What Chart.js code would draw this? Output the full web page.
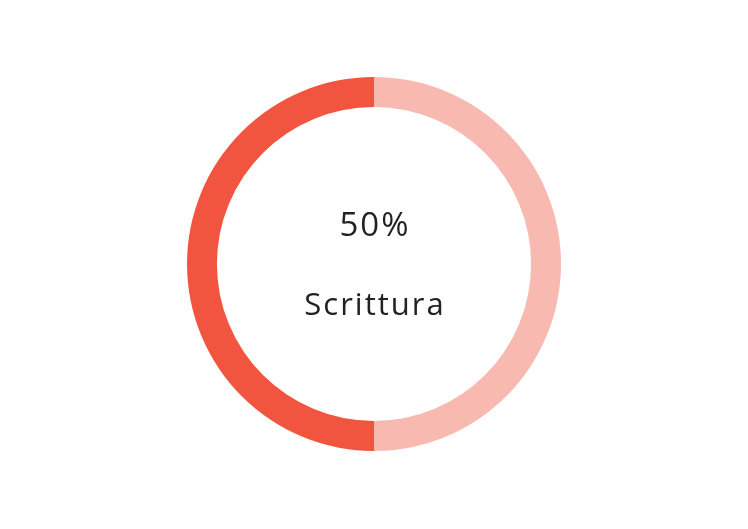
<!DOCTYPE html>
<html>
<head>
<meta charset="utf-8">
<script src="https://cdn.jsdelivr.net/npm/chart.js"></script>
<style>
  html, body { margin: 0; padding: 0; background: #fff; }
  #wrap { width: 748px; height: 529px; }
</style>
</head>
<body>
<div id="wrap"><canvas id="myChart"></canvas></div>
<script>
var labels = ["Altro", "Scrittura"];
var values = [50, 50];
var colors = ["#F8BAB0", "#F2553F"];
var centerValue = "50%";
var centerLabel = "Scrittura";

// testo al centro
var centerText = {
  id: 'centerText',
  afterDraw: function (chart) {
    var ctx = chart.ctx;
    var meta = chart.getDatasetMeta(0).data[0];
    var x = meta.x;
    ctx.save();
    ctx.fillStyle = '#222';
    ctx.textAlign = 'center';
    ctx.textBaseline = 'alphabetic';
    ctx.font = '400 33px "Open Sans"';
    ctx.letterSpacing = '2px';
    ctx.fillText(centerValue, x + 1, 236);
    ctx.font = '400 31px "Open Sans"';
    ctx.letterSpacing = '2px';
    ctx.fillText(centerLabel, x + 1, 315);
    ctx.restore();
  }
};

new Chart(document.getElementById("myChart").getContext('2d'), {
  type: 'doughnut',
  data: {
    labels: labels,
    datasets: [{
      data: values,
      backgroundColor: colors,
      borderWidth: 0
    }]
  },
  options: {
    responsive: true,
    maintainAspectRatio: false,
    animation: false,
    cutout: '84%',
    layout: { padding: { top: 77, bottom: 78 } },
    plugins: {
      legend: { display: false },
      tooltip: { enabled: false }
    }
  },
  plugins: [centerText]
});
</script>
</body>
</html>
